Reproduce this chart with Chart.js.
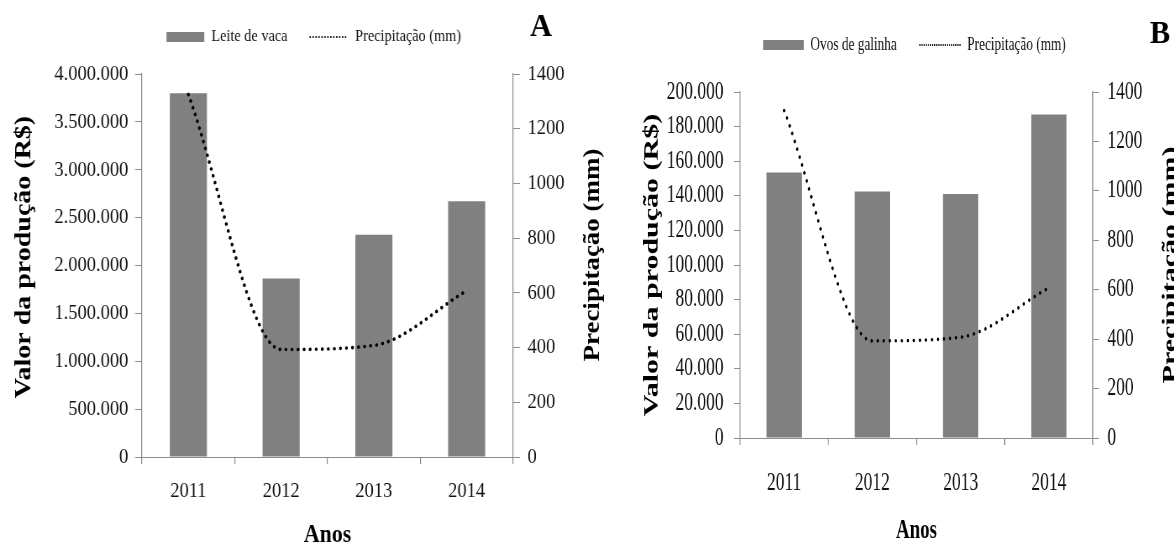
<!DOCTYPE html>
<html><head><meta charset="utf-8">
<script src="https://cdn.jsdelivr.net/npm/chart.js@4.4.1/dist/chart.umd.min.js"></script>
<style>
html,body{margin:0;padding:0;background:#fff;width:1174px;height:546px;overflow:hidden;}
#ca{position:absolute;left:0;top:0;transform-origin:0 0;transform:scaleX(0.84);}
#cb{position:absolute;left:610px;top:0;transform-origin:0 0;transform:scaleX(0.70);}
</style></head><body>
<canvas id="ca" width="726" height="546"></canvas>
<canvas id="cb" width="806" height="546"></canvas>
<script>
// ---- data ----
const anos = ['2011', '2012', '2013', '2014'];
const leiteDeVaca = [3800000, 1865000, 2320000, 2670000];
const ovosDeGalinha = [153500, 142500, 141000, 187000];
const precipitacao = [1325, 393, 408, 608];

const SERIF = '"Liberation Serif", "Times New Roman", serif';
const BAR = '#808080';
const AXIS = '#8c8c8c';
const TXT = '#111';
const H = 546;

function fmtBR(v) { return String(Math.round(v)).replace(/\B(?=(\d{3})+(?!\d))/g, '.'); }

const fixLegend = {
  id: 'fixLegend',
  beforeLayout(chart, args, opts) {
    const lg = chart.legend;
    if (lg && !lg.__fixed) {
      const orig = lg.fit.bind(lg);
      lg.fit = function () { orig(); this.height = opts.height; };
      lg.__fixed = true;
    }
  }
};

function textPlugin(items) {
  return {
    id: 'extraText',
    afterDraw(chart) {
      const ctx = chart.ctx;
      items.forEach(t => {
        ctx.save();
        ctx.font = t.font;
        ctx.fillStyle = '#000';
        ctx.textAlign = 'center';
        ctx.textBaseline = 'middle';
        ctx.translate(t.x, t.y);
        if (t.sx) ctx.scale(t.sx, 1);
        if (t.rot) ctx.rotate(t.rot);
        ctx.fillText(t.text, 0, 0);
        ctx.restore();
      });
    }
  };
}

// c: layout in screen pixels of the panel, k: horizontal compression of the panel
function buildChart(id, c) {
  const cv = document.getElementById(id);
  const W = cv.width, k = c.k;
  return new Chart(cv, {
    data: {
      labels: anos,
      datasets: [
        { type: 'bar', label: c.barLabel, data: c.barData, yAxisID: 'y', backgroundColor: BAR,
          borderWidth: 0, barPercentage: 0.4, categoryPercentage: 1, order: 1, pointStyle: 'rect' },
        { type: 'line', label: 'Precipitação (mm)', data: precipitacao, yAxisID: 'y1',
          borderColor: '#000', backgroundColor: '#000', borderWidth: 3.6, borderDash: [0.01, c.dot],
          borderCapStyle: 'round', pointRadius: 0, pointHoverRadius: 0, pointStyle: 'line',
          cubicInterpolationMode: 'monotone', fill: false, order: 0 }
      ]
    },
    options: {
      responsive: false, animation: false, devicePixelRatio: 1,
      layout: { padding: { left: c.padLeft, right: 0, top: c.padTop, bottom: 0 } },
      plugins: {
        legend: {
          display: true, position: 'top',
          labels: {
            usePointStyle: true, pointStyleWidth: c.legendBox, boxHeight: 10, padding: c.legendPad,
            font: { family: SERIF, size: c.legendFont }, color: TXT,
            sort: (a, b) => a.datasetIndex - b.datasetIndex,
            generateLabels(chart) {
              const items = Chart.defaults.plugins.legend.labels.generateLabels(chart);
              items.forEach(it => {
                if (it.datasetIndex === 1) { it.lineWidth = 2; it.lineDash = [0.01, c.legendDot]; it.lineCap = 'round'; it.strokeStyle = '#000'; }
                else { it.lineWidth = 0; }
              });
              return items;
            }
          }
        },
        tooltip: { enabled: false },
        fixLegend: { height: c.top - c.padTop }
      },
      scales: {
        x: {
          type: 'category', offset: true,
          grid: { display: true, drawOnChartArea: false, offset: true, tickLength: 7, color: AXIS, lineWidth: 1 / k },
          border: { display: true, color: AXIS, width: 1 },
          ticks: { font: { family: SERIF, size: c.xFont }, color: TXT, padding: c.xPad, maxRotation: 0 },
          title: { display: true, text: 'Anos', font: { family: SERIF, size: c.anosFont, weight: 'bold' }, color: '#000',
                   padding: { top: 0, bottom: c.anosPad } },
          afterFit(s) { s.height = H - c.bottom; }
        },
        y: {
          position: 'left', min: 0, max: c.barMax,
          ticks: { stepSize: c.barStep, callback: v => fmtBR(v), font: { family: SERIF, size: c.yFont }, color: TXT, padding: c.yPad },
          grid: { drawOnChartArea: false, tickLength: c.tickLen, color: AXIS },
          border: { display: true, color: AXIS, width: 1 / k },
          afterFit(s) { s.width = c.left / k - c.padLeft; }
        },
        y1: {
          position: 'right', min: 0, max: 1400,
          ticks: { stepSize: 200, callback: v => String(v), font: { family: SERIF, size: c.yFont }, color: TXT, padding: c.y1Pad },
          grid: { drawOnChartArea: false, tickLength: c.tickLen, color: AXIS },
          border: { display: true, color: AXIS, width: 1 / k },
          afterFit(s) { s.width = W - c.right / k; }
        }
      }
    },
    plugins: [fixLegend, textPlugin(c.texts.map(t => Object.assign({}, t, { x: t.x / k })))]
  });
}

buildChart('ca', {
  k: 0.84,
  barLabel: 'Leite de vaca', barData: leiteDeVaca, barMax: 4000000, barStep: 500000,
  left: 142, right: 513, top: 74, bottom: 457, padLeft: 21, padTop: 1.5,
  legendBox: 45, legendFont: 17, legendPad: 27, legendDot: 3.5, dot: 7.2,
  xFont: 22, yFont: 22, xPad: 14, yPad: 8, y1Pad: 9, tickLen: 8.3, anosFont: 26, anosPad: -5,
  texts: [
    { text: 'A', x: 541, y: 28, font: 'bold 32px ' + SERIF, sx: 1 / 0.84 * 0.95 },
    { text: 'Valor da produção (R$)', x: 24, y: 257, rot: -Math.PI / 2, font: 'bold 28px ' + SERIF },
    { text: 'Precipitação (mm)', x: 593, y: 255, rot: -Math.PI / 2, font: 'bold 27px ' + SERIF }
  ]
});

buildChart('cb', {
  k: 0.70,
  barLabel: 'Ovos de galinha', barData: ovosDeGalinha, barMax: 200000, barStep: 20000,
  left: 130, right: 483, top: 92, bottom: 438, padLeft: 64, padTop: 2.5,
  legendBox: 58, legendFont: 19, legendPad: 33, legendDot: 3, dot: 8.6,
  xFont: 25, yFont: 25, xPad: 23, yPad: 15, y1Pad: 12, tickLen: 8.5, anosFont: 27, anosPad: -1.5,
  texts: [
    { text: 'B', x: 550, y: 35, font: 'bold 32px ' + SERIF, sx: 1 / 0.70 * 0.95 },
    { text: 'Valor da produção (R$)', x: 42, y: 265, rot: -Math.PI / 2, font: 'bold 30px ' + SERIF },
    { text: 'Precipitação (mm)', x: 561, y: 265, rot: -Math.PI / 2, font: 'bold 30px ' + SERIF }
  ]
});
</script>
</body></html>
